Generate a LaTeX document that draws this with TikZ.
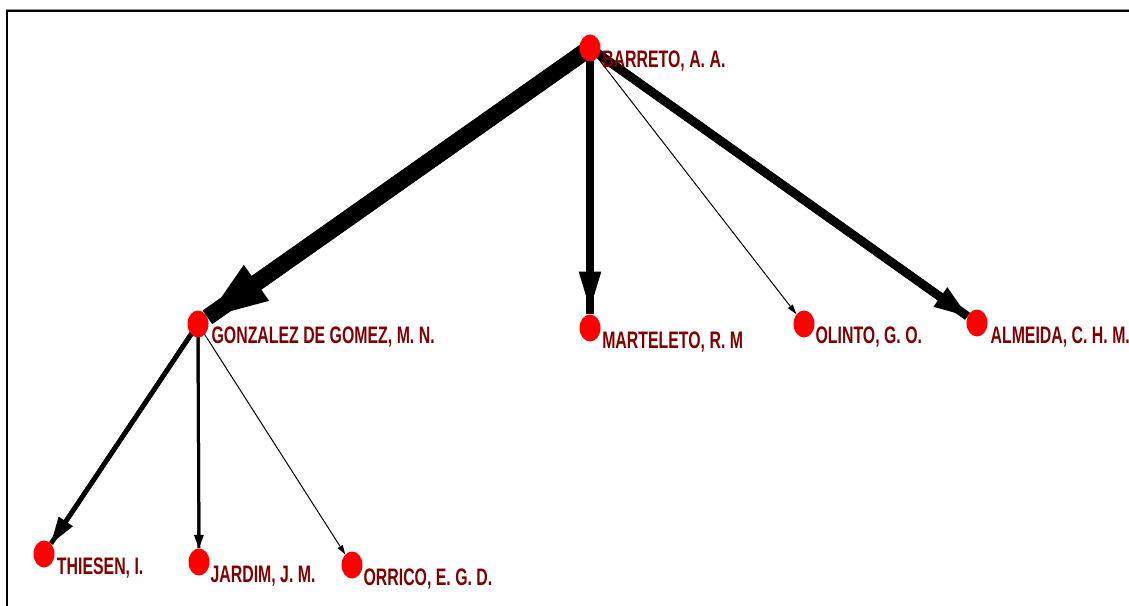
\documentclass[tikz,border=0pt]{standalone}
\usepackage{fontspec}
\newfontfamily\labfont{Liberation Sans}[FakeStretch=0.665]
\usetikzlibrary{arrows.meta,shapes.geometric}
\pgfdeclarelayer{bg}
\pgfsetlayers{bg,main}
\definecolor{labred}{RGB}{128,0,0}
\definecolor{dotred}{RGB}{255,0,0}
\tikzset{
  person/.style={ellipse, fill=dotred, draw=none, minimum width=15.75pt, minimum height=20.25pt, inner sep=0pt},
  lab/.style={font=\labfont\bfseries\fontsize{17.9}{20}\selectfont, text=labred, inner sep=0pt, anchor=base west},
  link/.style={draw=black, line cap=butt},
}
\begin{document}
\begin{tikzpicture}[x=0.75pt,y=-0.75pt]
\useasboundingbox (0,0) rectangle (1129,606);
% frame
\draw[black!45, line width=0.75pt] (6,9.2) -- (1129,9.2);
\draw[black, line width=1.6pt] (6.8,607) -- (6.8,11) -- (1130,11);

% nodes
\node[person] (b) at (590,48) {};
\node[person] (g) at (198,324) {};
\node[person] (m) at (590,328) {};
\node[person] (o) at (804,324) {};
\node[person] (a) at (977,323) {};
\node[person] (t) at (44,554) {};
\node[person] (j) at (199,562) {};
\node[person] (r) at (352,565) {};

% labels
\node[lab] (lb) at ([xshift=9pt,yshift=-15pt]b.center) {BARRETO, A. A.};
\node[lab] (lg) at ([xshift=10pt,yshift=-15pt]g.center) {GONZALEZ DE GOMEZ, M. N.};
\node[lab] (lm) at ([xshift=9pt,yshift=-15pt]m.center) {MARTELETO, R. M};
\node[lab] (lo) at ([xshift=8.5pt,yshift=-14.5pt]o.center) {OLINTO, G. O.};
\node[lab] (la) at ([xshift=10pt,yshift=-15pt]a.center) {ALMEIDA, C. H. M.};
\node[lab] (lt) at ([xshift=9.5pt,yshift=-15pt]t.center) {THIESEN, I.};
\node[lab] (lj) at ([xshift=8.5pt,yshift=-15.5pt]j.center) {JARDIM, J. M.};
\node[lab] (lr) at ([xshift=8.5pt,yshift=-15pt]r.center) {ORRICO, E. G. D.};

% edges
\begin{pgfonlayer}{bg}
\draw[link, line width=12.5pt] (b.center) -- (g);
\draw[link, line width=12.5pt, -{Triangle[length=45pt,width=33pt,line width=0pt]}] (b.center) -- (g);

\draw[link, line width=6.5pt] (b.center) -- (m);
\draw[link, line width=6.5pt, shorten >=4pt, -{Triangle[length=28pt,width=17pt,line width=0pt]}] (b.center) -- (m);

\draw[link, line width=0.75pt, -{Triangle[length=7.5pt,width=4.5pt,line width=0pt]}] (b.center) -- (o);

\draw[link, line width=6.5pt] (b.center) -- (a);
\draw[link, line width=6.5pt, -{Triangle[length=25pt,width=18pt,line width=0pt]}] (b.center) -- (a);

\draw[link, line width=3.5pt] (g.center) -- (t);
\draw[link, line width=3.5pt, -{Triangle[length=20pt,width=13pt,line width=0pt]}] (g.center) -- (t);

\draw[link, line width=2.25pt] (g.center) -- (j);
\draw[link, line width=2.25pt, -{Triangle[length=10pt,width=7.5pt,line width=0pt]}] (g.center) -- (j);

\draw[link, line width=0.75pt, -{Triangle[length=7pt,width=4.5pt,line width=0pt]}] (g.center) -- (r);
\end{pgfonlayer}
\end{tikzpicture}
\end{document}
